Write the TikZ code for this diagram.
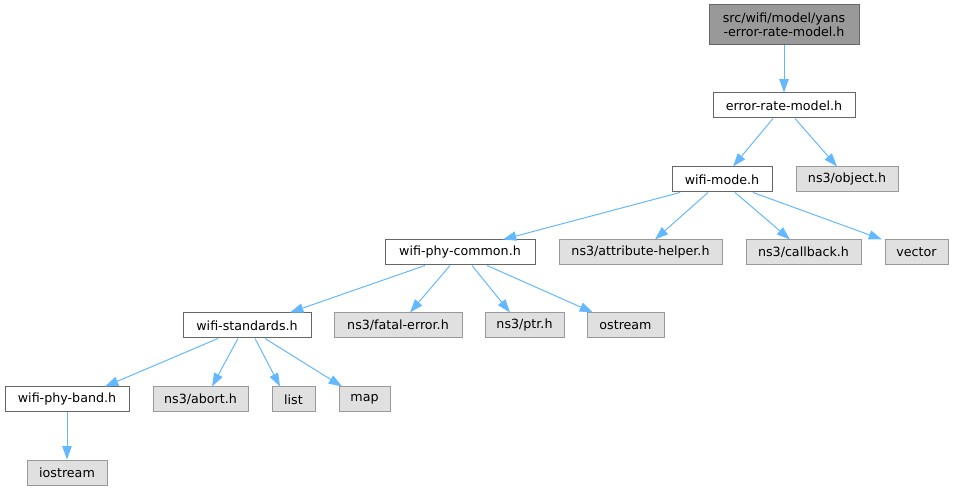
\documentclass[tikz,border=0pt]{standalone}
\usepackage{fontspec}
\setmainfont{DejaVu Sans}
\usetikzlibrary{arrows.meta,calc}
\definecolor{edgeblue}{HTML}{63B8FF}
\definecolor{grayfill}{HTML}{E0E0E0}
\definecolor{grayline}{HTML}{999999}
\definecolor{darkline}{HTML}{666666}
\definecolor{topfill}{HTML}{999999}
\tikzset{
  box/.style={draw, line width=0.75pt, inner sep=0pt, minimum height=18.75pt,
    font=\fontsize{9.5}{10.5}\selectfont, align=center},
  wbox/.style={box, draw=darkline, fill=white},
  gbox/.style={box, draw=grayline, fill=grayfill},
  tbox/.style={box, draw=darkline, fill=topfill, minimum height=30pt},
  edge/.style={draw=edgeblue, line width=0.75pt, -{Triangle[length=10pt,width=7pt]}, color=edgeblue}
}
\begin{document}
\begin{tikzpicture}[x=0.75pt,y=-0.75pt]
\useasboundingbox (0,0) rectangle (953,491);
% nodes
\node[tbox, minimum width=150*0.75pt] (yans) at (784,25) {src/wifi/model/yans\\-error-rate-model.h};
\node[wbox, minimum width=142*0.75pt] (erm) at (784,105.5) {error-rate-model.h};
\node[wbox, minimum width=100*0.75pt] (wmode) at (722,179.5) {wifi-mode.h};
\node[gbox, minimum width=102*0.75pt] (object) at (847,179.5) {ns3/object.h};
\node[wbox, minimum width=150*0.75pt] (wpc) at (460,252.5) {wifi-phy-common.h};
\node[gbox, minimum width=163*0.75pt] (attr) at (640.5,252.5) {ns3/attribute-helper.h};
\node[gbox, minimum width=115*0.75pt] (cb) at (803.5,252.5) {ns3/callback.h};
\node[gbox, minimum width=63*0.75pt] (vec) at (916.5,252.5) {vector};
\node[wbox, minimum width=128*0.75pt] (wstd) at (247,325.5) {wifi-standards.h};
\node[gbox, minimum width=128*0.75pt] (fatal) at (398,325.5) {ns3/fatal-error.h};
\node[gbox, minimum width=79*0.75pt] (ptr) at (524.5,325.5) {ns3/ptr.h};
\node[gbox, minimum width=77*0.75pt] (ostream) at (625.5,325.5) {ostream};
\node[wbox, minimum width=124*0.75pt] (wpb) at (67,399.5) {wifi-phy-band.h};
\node[gbox, minimum width=95*0.75pt] (abort) at (200.5,399.5) {ns3/abort.h};
\node[gbox, minimum width=43*0.75pt] (list) at (293.5,399.5) {list};
\node[gbox, minimum width=51*0.75pt] (map) at (364.5,399.5) {map};
\node[gbox, minimum width=80*0.75pt] (iostream) at (67,472.5) {iostream};
% edges
\draw[edge] (yans.south) -- (erm.north);
\draw[edge] ($(erm.south)+(-11,0)$) -- ($(wmode.north)+(11,0)$);
\draw[edge] ($(erm.south)+(11,0)$) -- ($(object.north)+(-10,0)$);
\draw[edge] ($(wmode.south)+(-42,0)$) -- ($(wpc.north)+(43,0)$);
\draw[edge] ($(wmode.south)+(-14,0)$) -- ($(attr.north)+(14.5,0)$);
\draw[edge] ($(wmode.south)+(13,0)$) -- ($(cb.north)+(-13.5,0)$);
\draw[edge] ($(wmode.south)+(31,0)$) -- ($(vec.north)+(-34.5,0)$);
\draw[edge] ($(wpc.south)+(-35,0)$) -- ($(wstd.north)+(43,0)$);
\draw[edge] ($(wpc.south)+(-10,0)$) -- ($(fatal.north)+(12,0)$);
\draw[edge] ($(wpc.south)+(12,0)$) -- ($(ptr.north)+(-14.5,0)$);
\draw[edge] ($(wpc.south)+(27,0)$) -- ($(ostream.north)+(-32.5,0)$);
\draw[edge] ($(wstd.south)+(-29,0)$) -- ($(wpb.north)+(38,0)$);
\draw[edge] ($(wstd.south)+(-9,0)$) -- ($(abort.north)+(11.5,0)$);
\draw[edge] ($(wstd.south)+(8,0)$) -- ($(list.north)+(-13.5,0)$);
\draw[edge] ($(wstd.south)+(18,0)$) -- ($(map.north)+(-22.5,0)$);
\draw[edge] (wpb.south) -- (iostream.north);
\end{tikzpicture}
\end{document}
